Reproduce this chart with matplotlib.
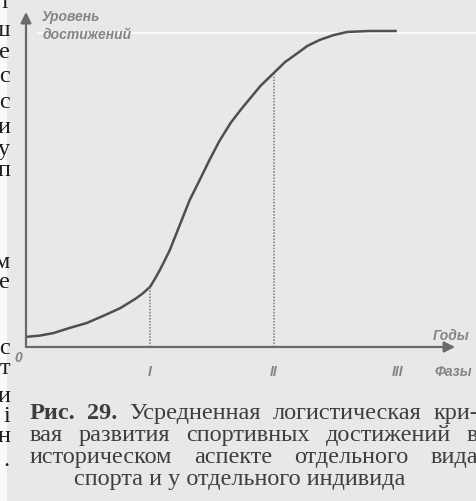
import numpy as np
import matplotlib.pyplot as plt
from matplotlib.patches import Rectangle

# curve: years (phase units) vs. level (% of plateau)
years = [0.0, 0.11, 0.22, 0.35, 0.49, 0.62, 0.76, 0.88, 0.94, 1.0, 1.04,
         1.08, 1.12, 1.16, 1.24, 1.32, 1.40, 1.48, 1.56, 1.65, 1.73, 1.81,
         1.89, 1.99, 2.09, 2.19, 2.27, 2.37, 2.48, 2.59, 2.77, 2.99]
level = [3.2, 3.6, 4.4, 6.0, 7.6, 9.8, 12.3, 15.2, 16.9, 19.0, 21.6,
         24.4, 27.5, 30.7, 38.6, 46.5, 52.8, 59.2, 65.2, 70.9, 75.0, 78.8,
         82.6, 86.4, 90.2, 93.0, 95.3, 97.2, 98.7, 99.7, 100.0, 100.0]

phase_pos = [1, 2, 3]
phase_labels = ["I", "II", "III"]
phase_level = [19.0, 86.4]   # where the dotted lines meet the curve

# caption: three justified lines and a centred last line
caption_words = [
    ["Рис.", "29.", "Усредненная", "логистическая", "кри-"],
    ["вая", "развития", "спортивных", "достижений", "в"],
    ["историческом", "аспекте", "отдельного", "вида"],
]
caption_bold = [2, 0, 0]   # number of bold words at the start of each line
caption_last = "спорта и у отдельного индивида"
caption_base = [419, 441, 463, 485]

# ends of lines from the neighbouring column, cut by the scan
edge_chars = ["т", "ш", "е", "с", "с", "и", "у", "п", "м", "е",
              "с", "т", "и", "і", "н", "."]
edge_y = [2, 30, 52, 76, 102, 127, 149, 171, 262, 283,
          348, 369, 397, 417, 436, 460]

W, H = 477, 501
fig = plt.figure(figsize=(W / 100, H / 100), dpi=100)
fig.patch.set_facecolor("#e8e8e8")

# pixel helper axes for the page background bits
bg = fig.add_axes([0, 0, 1, 1])
bg.set_xlim(0, W)
bg.set_ylim(H, 0)
bg.axis("off")
bg.add_patch(Rectangle((0, 0), 7, H, color="#fafafa", lw=0))
bg.plot([38, W], [33, 33], color="#fbfbfb", lw=1.6, alpha=0.9)

# main axes: origin at (26, 347) px, 124 px per phase, 316 px per 100 %
ax = fig.add_axes([0, 0, 1, 1])
ax.set_xlim(-26 / 124, (W - 26) / 124)
ax.set_ylim((347 - H) / 316 * 100, 347 / 316 * 100)
ax.axis("off")
ax.patch.set_alpha(0)

axis_col = "#6a6a6a"
ax.annotate("", xy=(0, 106), xytext=(0, 0),
            arrowprops=dict(arrowstyle="-|>", color=axis_col, lw=1.6,
                            mutation_scale=16, shrinkA=0, shrinkB=0))
ax.annotate("", xy=(3.46, 0), xytext=(0, 0),
            arrowprops=dict(arrowstyle="-|>", color=axis_col, lw=1.6,
                            mutation_scale=16, shrinkA=0, shrinkB=0))

ax.plot(years, level, color="#4f4f4f", lw=1.8, solid_capstyle="butt")

for p, top in zip(phase_pos[:2], phase_level):
    ax.plot([p, p], [0, top], color="#7a7a7a", lw=1.1, ls=(0, (1, 1)))

lab = dict(color="#858585", fontweight="bold", fontstyle="italic",
           family="Liberation Sans")
ax.text(0.13, 104.5, "Уровень", fontsize=10, va="center", ha="left", **lab)
ax.text(0.13, 98.8, "достижений", fontsize=10, va="center", ha="left", **lab)
ax.text(3.58, 3.6, "Годы", fontsize=10, va="center", ha="right", **lab)
ax.text(3.60, -7.9, "Фазы", fontsize=10, va="center", ha="right", **lab)
ax.text(-0.065, -3.6, "0", fontsize=10, va="center", ha="center", **lab)
for p, s in zip(phase_pos, phase_labels):
    ax.text(p, -7.9, s, fontsize=10, va="center", ha="center", **lab)

# caption, justified between left and right margins
cap = dict(fontsize=17.5, family="Liberation Serif", color="#3e3e3e",
           va="baseline", ha="left")
left, right = 30, 478
renderer = fig.canvas.get_renderer()
for words, nb, y in zip(caption_words, caption_bold, caption_base):
    texts = [bg.text(0, y, w, fontweight="bold" if i < nb else "normal", **cap)
             for i, w in enumerate(words)]
    widths = [t.get_window_extent(renderer).width for t in texts]
    gap = (right - left - sum(widths)) / (len(words) - 1)
    x = left
    for t, w in zip(texts, widths):
        t.set_x(x)
        x += w + gap
bg.text(240, caption_base[3], caption_last,
        **{**cap, "ha": "center"})

for ch, y in zip(edge_chars, edge_y):
    bg.text(10, y, ch, fontsize=17.5, family="Liberation Serif",
            color="#1e1e1e", va="center", ha="right")

fig.savefig("out.png", dpi=100, facecolor=fig.get_facecolor())
